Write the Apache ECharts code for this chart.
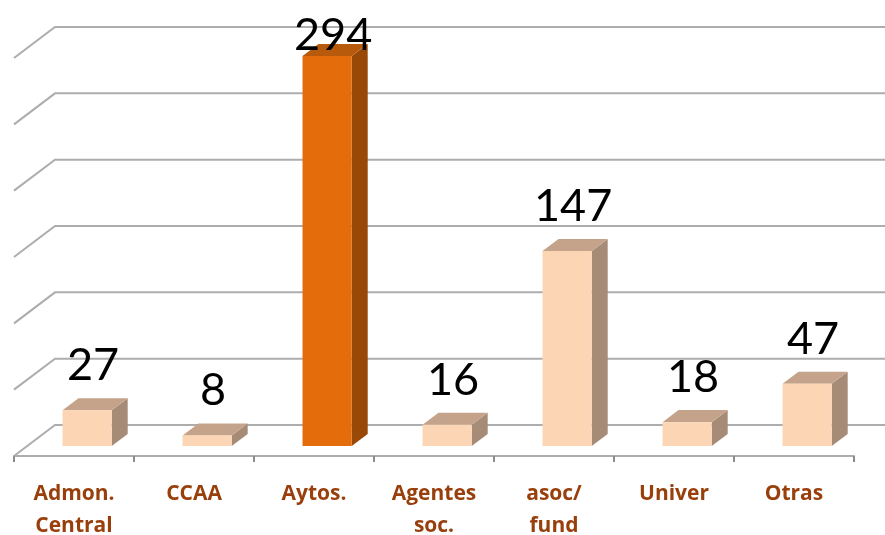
<!DOCTYPE html>
<html>
<head>
<meta charset="utf-8">
<script src="https://cdn.jsdelivr.net/npm/echarts@6/dist/echarts.min.js"></script>
<style>
  html, body { margin: 0; padding: 0; background: #fff; }
  #graph { width: 885px; height: 535px; }
</style>
</head>
<body>
<div id="graph"></div>
<script>
// data
const categories = ['Admon.\nCentral', 'CCAA', 'Aytos.', 'Agentes\nsoc.', 'asoc/\nfund', 'Univer', 'Otras'];
const values = [27, 8, 294, 16, 147, 18, 47];
const highlight = [false, false, true, false, false, false, false];
const gridTicks = [0, 50, 100, 150, 200, 250, 300];

// depth of the floor (pixels) and where the bars sit in it
const DX = 41, DY = -31;
const F1 = 0.32, F2 = 0.71;

const light = { front: '#FCD5B4', top: '#C4A38A', side: '#A68B77' };
const dark = { front: '#E46C0A', top: '#B85A0B', side: '#984807' };

function renderGrid(params, api) {
  const cs = params.coordSys;
  const y = api.coord([0, api.value(0)])[1];
  const x0 = cs.x;
  return {
    type: 'polyline',
    shape: { points: [[x0, y], [x0 + DX, y + DY], [885, y + DY]] },
    style: { stroke: '#ADADAD', lineWidth: 2, fill: null },
    silent: true
  };
}

function renderBar(params, api) {
  const i = api.value(0);
  const v = api.value(1);
  const base = api.coord([i, 0]);
  const topP = api.coord([i, v]);
  const w = api.size([1, 0])[0] * 0.41;
  const xl = base[0] - w / 2, xr = base[0] + w / 2;
  const ox1 = DX * F1, oy1 = DY * F1;
  const ox2 = DX * F2, oy2 = DY * F2;
  const yb = base[1], yt = topP[1];
  const c = highlight[i] ? dark : light;
  // label sits above the bar, but is kept inside the chart at the top
  const ly = Math.max(yt + oy2 - 10, 58);
  return {
    type: 'group',
    children: [
      { type: 'polygon', shape: { points: [
          [xr + ox1, yb + oy1], [xr + ox2, yb + oy2], [xr + ox2, yt + oy2], [xr + ox1, yt + oy1]] },
        style: { fill: c.side } },
      { type: 'polygon', shape: { points: [
          [xl + ox1, yt + oy1], [xr + ox1, yt + oy1], [xr + ox2, yt + oy2], [xl + ox2, yt + oy2]] },
        style: { fill: c.top } },
      { type: 'rect', shape: { x: xl + ox1, y: yt + oy1, width: w, height: yb - yt },
        style: { fill: c.front } },
      { type: 'text', x: base[0] + (ox1 + ox2) / 2 - 2, y: ly, z2: 10,
        style: { text: String(v), fill: '#000', font: '45px Lato', align: 'center', verticalAlign: 'bottom' } }
    ]
  };
}

const chart = echarts.init(document.getElementById('graph'));
chart.setOption({
  animation: false,
  grid: { left: 14, right: 31, top: 58, bottom: 79, outerBoundsMode: 'none', containLabel: false },
  xAxis: {
    type: 'category',
    data: categories,
    axisLine: { lineStyle: { color: '#ADADAD', width: 2 } },
    axisTick: { show: true, length: 6, lineStyle: { color: '#8C8C8C', width: 2 } },
    axisLabel: {
      interval: 0, margin: 22, color: '#983F0B', fontFamily: 'Open Sans',
      fontWeight: 'bold', fontSize: 21, lineHeight: 32
    }
  },
  yAxis: {
    type: 'value', min: 0, max: 300, interval: 50,
    axisLabel: { show: false }, splitLine: { show: false },
    axisLine: { show: false }, axisTick: { show: false }
  },
  series: [
    {
      type: 'custom',
      renderItem: renderGrid,
      data: gridTicks.map(t => [t]),
      encode: { y: 0 },
      z: 1
    },
    {
      type: 'custom',
      renderItem: renderBar,
      data: values.map((v, i) => [i, v]),
      encode: { x: 0, y: 1 },
      z: 2
    }
  ]
});
</script>
</body>
</html>
